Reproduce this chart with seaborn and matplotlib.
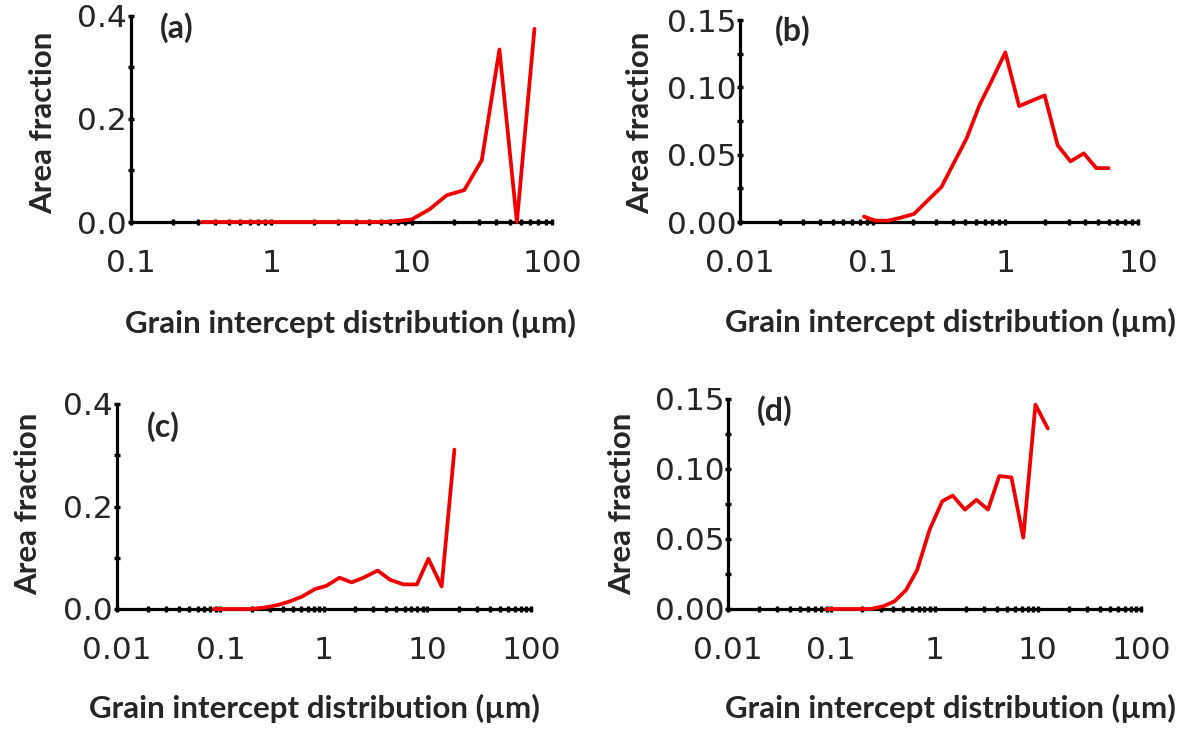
import numpy as np
import pandas as pd
import seaborn as sns
import matplotlib
matplotlib.use('Agg')
import matplotlib.pyplot as plt
from matplotlib.ticker import FixedLocator, NullFormatter

# podaci ocitani sa slike
a_x = [0.32, 0.42, 0.56, 0.75, 1.0, 1.33, 1.78, 2.37, 3.16, 4.22, 5.62, 7.5, 10.0, 13.3, 17.8, 23.7, 31.6, 42.2, 56.2, 75.0]
a_y = [0, 0, 0, 0, 0, 0, 0, 0, 0, 0, 0, 0.001, 0.005, 0.024, 0.052, 0.062, 0.12, 0.335, 0.0, 0.375]

b_x = [0.086, 0.105, 0.13, 0.16, 0.205, 0.26, 0.33, 0.41, 0.51, 0.64, 0.79, 1.0, 1.27, 1.58, 1.98, 2.48, 3.1, 3.9, 4.85, 6.0]
b_y = [0.004, 0.001, 0.001, 0.003, 0.006, 0.016, 0.026, 0.044, 0.062, 0.087, 0.105, 0.126, 0.086, 0.090, 0.094, 0.057, 0.045, 0.051, 0.040, 0.040]

c_x = [0.086, 0.115, 0.15, 0.2, 0.27, 0.36, 0.47, 0.61, 0.82, 1.05, 1.41, 1.85, 2.4, 3.3, 4.35, 5.85, 7.9, 10.2, 13.7, 18.2]
c_y = [0, 0, 0, 0, 0.003, 0.008, 0.015, 0.024, 0.039, 0.045, 0.061, 0.052, 0.061, 0.075, 0.057, 0.048, 0.048, 0.098, 0.044, 0.311]

d_x = [0.089, 0.115, 0.15, 0.19, 0.24, 0.32, 0.41, 0.53, 0.68, 0.9, 1.19, 1.5, 1.97, 2.55, 3.3, 4.24, 5.56, 7.24, 9.5, 12.5]
d_y = [0, 0, 0, 0, 0, 0.002, 0.0055, 0.0135, 0.028, 0.057, 0.077, 0.081, 0.071, 0.078, 0.071, 0.095, 0.094, 0.051, 0.146, 0.129]

panel_names = ['(a)', '(b)', '(c)', '(d)']
x_limits = [(0.1, 100), (0.01, 10), (0.01, 100), (0.01, 100)]
y_labels_list = [['0.0', '0.2', '0.4'], ['0.00', '0.05', '0.10', '0.15'],
                 ['0.0', '0.2', '0.4'], ['0.00', '0.05', '0.10', '0.15']]
y_major = [[0, 0.2, 0.4], [0, 0.05, 0.10, 0.15], [0, 0.2, 0.4], [0, 0.05, 0.10, 0.15]]
y_minor = [[0.1, 0.3], [0.025, 0.075, 0.125], [0.1, 0.3], [0.025, 0.075, 0.125]]
x_title = 'Grain intercept distribution (\u00b5m)'
y_title = 'Area fraction'

sns.set_style('ticks')
plt.rcParams['font.family'] = ['DejaVu Sans']

W, H = 1185, 730
fig = plt.figure(figsize=(W / 100, H / 100), dpi=100)

# pozicije osa u pikselima: levo, desno, gore, dole
boxes = [(131, 552, 16, 222), (740, 1138, 20, 222), (117, 531, 404, 609), (728, 1141, 399, 609)]
# pozicije natpisa
ylab_pos = [(43, 123), (640, 123), (28, 504), (622, 504)]
xlab_pos = [(350, 323), (950, 322), (314, 708), (950, 708)]
tag_pos = [(160, 28), (775, 31), (147, 427), (757, 411)]

series = [(a_x, a_y), (b_x, b_y), (c_x, c_y), (d_x, d_y)]
red = '#f00000'

for i in range(4):
    l, r, t, b = boxes[i]
    ax = fig.add_axes([l / W, 1 - b / H, (r - l) / W, (b - t) / H])
    df = pd.DataFrame({'x': series[i][0], 'y': series[i][1]})
    sns.lineplot(data=df, x='x', y='y', ax=ax, color=red, linewidth=2.7, zorder=3, clip_on=False)
    ax.set_xscale('log')
    ax.set_xlim(*x_limits[i])
    ax.set_ylim(y_major[i][0], y_major[i][-1])

    lo, hi = x_limits[i]
    decades = []
    d = lo
    while d <= hi * 1.001:
        decades.append(d)
        d *= 10
    minors = [dd * k for dd in decades[:-1] for k in range(2, 10)]
    ax.xaxis.set_major_locator(FixedLocator(decades))
    ax.set_xticklabels([('%g' % v) for v in decades])
    ax.xaxis.set_minor_locator(FixedLocator(minors))
    ax.xaxis.set_minor_formatter(NullFormatter())
    ax.yaxis.set_major_locator(FixedLocator(y_major[i]))
    ax.set_yticklabels(y_labels_list[i])
    ax.yaxis.set_minor_locator(FixedLocator(y_minor[i]))

    for s in ['top', 'right']:
        ax.spines[s].set_visible(False)
    for s in ['left', 'bottom']:
        ax.spines[s].set_linewidth(2.3)
        ax.spines[s].set_color('black')
    ax.tick_params(which='both', direction='inout', length=4.5, width=2.4, color='black')
    ax.tick_params(axis='x', which='major', labelsize=22.5, pad=17)
    ax.tick_params(axis='y', which='major', labelsize=22.5, pad=0.5)
    ax.set_xlabel('')
    ax.set_ylabel('')
    ax.set_facecolor('white')

    fig.text(xlab_pos[i][0] / W, 1 - xlab_pos[i][1] / H, x_title, ha='center', va='center',
             fontsize=22.5, fontweight='bold', family=['Lato', 'DejaVu Sans'])
    fig.text(ylab_pos[i][0] / W, 1 - ylab_pos[i][1] / H, y_title, ha='center', va='center',
             rotation=90, fontsize=22.5, fontweight='bold', family=['Lato', 'DejaVu Sans'])
    fig.text(tag_pos[i][0] / W, 1 - tag_pos[i][1] / H, panel_names[i], ha='left', va='center',
             fontsize=23, fontweight='bold', family=['Lato', 'DejaVu Sans'])

fig.savefig('out.png', dpi=100, facecolor='white')
